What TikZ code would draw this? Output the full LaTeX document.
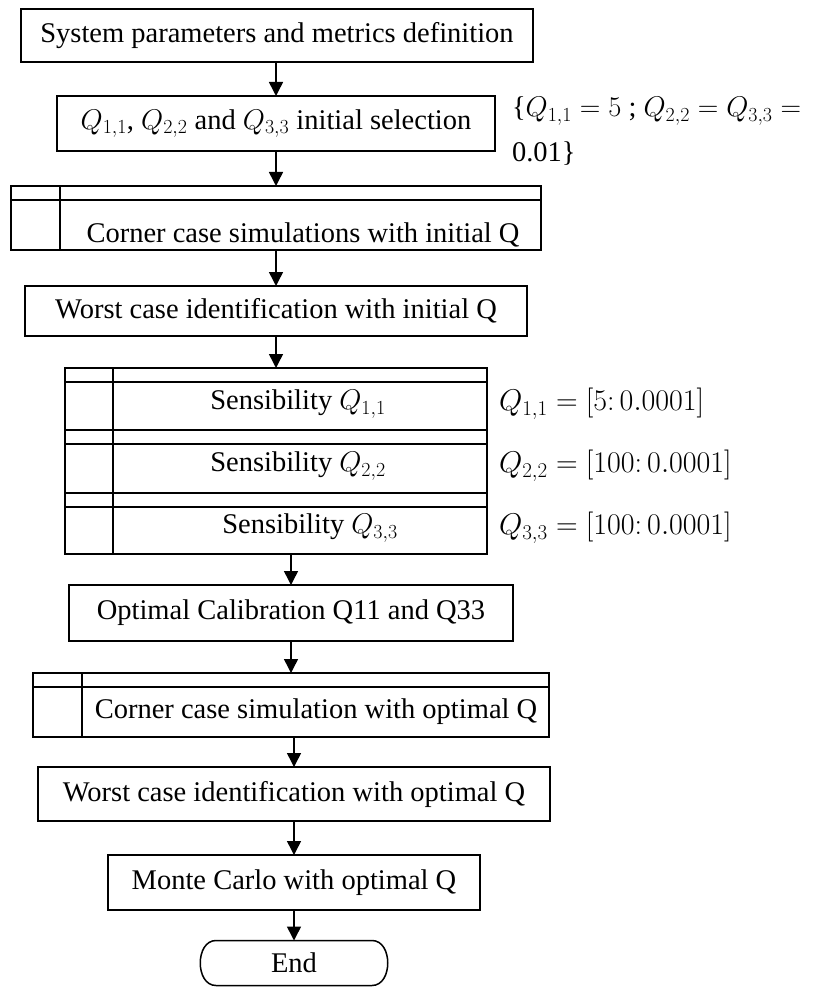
\documentclass[tikz,border=0pt]{standalone}
\usepackage{fix-cm}
\usepackage{fontspec}
\setmainfont{Liberation Serif}
\usetikzlibrary{arrows.meta,calc}
\begin{document}
\begin{tikzpicture}[x=1pt,y=-1pt,
  every node/.style={inner sep=0pt,outer sep=0pt,font=\fontsize{28.5}{34}\selectfont},
  box/.style={draw,line width=1.5pt,rectangle},
  txt/.style={draw=none},
  mlab/.style={draw=none,anchor=west,font=\fontsize{30}{36}\selectfont},
  hdr/.style={line width=1.3pt},
  arr/.style={line width=1.5pt,-{Triangle[length=14pt,width=14pt]}}]
\useasboundingbox (0,0) rectangle (815,987);
% boxes
\node[box,minimum width=512pt,minimum height=53pt] (b1) at (277,35.5) {System parameters and metrics definition};
\node[box,minimum width=438pt,minimum height=55pt] (b2) at (276,123.5) {$Q_{1,1}$, $Q_{2,2}$ and $Q_{3,3}$ initial selection};
\node[txt,anchor=north west,align=left] (ann) at (512,97) {\{$Q_{1,1}=5$ ; $Q_{2,2}=Q_{3,3}=$\\[11pt]0.01\}};
% predefined process 1
\node[box,minimum width=530pt,minimum height=64pt] (b3) at (276,218) {};
\draw[hdr] ([yshift=-14pt]b3.north west) -- ([yshift=-14pt]b3.north east);
\draw[hdr] ([xshift=49pt]b3.north west) -- ([xshift=49pt]b3.south west);
\node[txt] (b3t) at (303,235) {Corner case simulations with initial Q};
\node[box,minimum width=502pt,minimum height=50pt] (b4) at (276,311) {Worst case identification with initial Q};
% stack
\node[box,minimum width=422pt,minimum height=62pt] (s1) at (276,399) {};
\node[box,minimum width=422pt,minimum height=63pt] (s2) at (276,461.5) {};
\node[box,minimum width=422pt,minimum height=61pt] (s3) at (276,523.5) {};
\foreach \s in {s1,s2,s3}{
  \draw[hdr] ([yshift=-14pt]\s.north west) -- ([yshift=-14pt]\s.north east);
  \draw[hdr] ([xshift=48pt]\s.north west) -- ([xshift=48pt]\s.south west);
}
\node[txt] (s1t) at (298,404) {Sensibility $Q_{1,1}$};
\node[txt] (s2t) at (298,466) {Sensibility $Q_{2,2}$};
\node[txt] (s3t) at (310,528) {Sensibility $Q_{3,3}$};
\node[mlab] (l1) at (499,404) {$Q_{1,1}=[5\colon 0.0001]$};
\node[mlab] (l2) at (499,466) {$Q_{2,2}=[100\colon 0.0001]$};
\node[mlab] (l3) at (499,528) {$Q_{3,3}=[100\colon 0.0001]$};
\node[box,minimum width=444pt,minimum height=56pt] (b5) at (291,613) {Optimal Calibration Q11 and Q33};
% predefined process 2
\node[box,minimum width=516pt,minimum height=64pt] (b6) at (291,705) {};
\draw[hdr] ([yshift=-14pt]b6.north west) -- ([yshift=-14pt]b6.north east);
\draw[hdr] ([xshift=49pt]b6.north west) -- ([xshift=49pt]b6.south west);
\node[txt] (b6t) at (316,712) {Corner case simulation with optimal Q};
\node[box,minimum width=512pt,minimum height=54pt] (b7) at (294,794) {Worst case identification with optimal Q};
\node[box,minimum width=372pt,minimum height=55pt] (b8) at (294,882.5) {Monte Carlo with optimal Q};
\node[txt,minimum width=156pt,minimum height=45pt] (en) at (294,963) {End};
\draw[line width=1.5pt] (en.north west) -- (en.north east)
  .. controls +(21,0) and +(21,0) .. (en.south east) -- (en.south west)
  .. controls +(-21,0) and +(-21,0) .. (en.north west) -- cycle;
% arrows
\draw[arr] (b1.south -| b2.north) -- (b2.north);
\draw[arr] (b2.south -| b3.north) -- (b3.north);
\draw[arr] (b3.south -| b4.north) -- (b4.north);
\draw[arr] (b4.south -| s1.north) -- (s1.north);
\draw[arr] (s3.south -| b5.north) -- (b5.north);
\draw[arr] (b5.south -| b6.north) -- (b6.north);
\draw[arr] (b6.south -| b7.north) -- (b7.north);
\draw[arr] (b7.south -| b8.north) -- (b8.north);
\draw[arr] (b8.south -| en.north) -- (en.north);
\end{tikzpicture}
\end{document}
